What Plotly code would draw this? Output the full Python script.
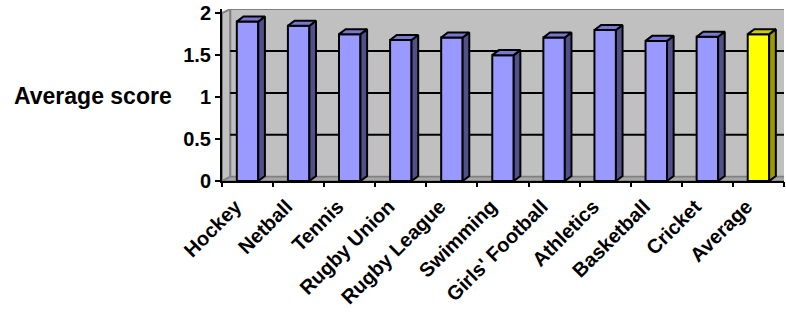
import plotly.graph_objects as go

categories = ["Hockey", "Netball", "Tennis", "Rugby Union", "Rugby League", "Swimming",
              "Girls' Football", "Athletics", "Basketball", "Cricket", "Average"]
scores = [1.90, 1.85, 1.75, 1.68, 1.71, 1.50, 1.71, 1.80, 1.67, 1.72, 1.75]
y_ticks = [0, 0.5, 1, 1.5, 2]
y_tick_text = ["0", "0.5", "1", "1.5", "2"]

FRONT = "#9999FF"; SIDE = "#50508A"; TOP = "#7878D0"
AVG_FRONT = "#FFFF00"; AVG_SIDE = "#9C9C00"; AVG_TOP = "#CCCC00"
WALL = "#C0C0C0"; WALL_EDGE = "#808080"; FLOOR = "#A6A6A6"

n = len(categories)
xs = list(range(n))
bw = 0.42          # bar width (category units)
bdx, bdy = 0.13, 0.06   # bar depth offset
wdx, wdy = 0.16, 0.05   # wall depth offset
x0, x1 = -0.5, n - 0.5
ymax = 2 + wdy

fig = go.Figure()

fronts = [AVG_FRONT if c == "Average" else FRONT for c in categories]
fig.add_trace(go.Bar(x=xs, y=scores, width=bw, marker=dict(color=fronts, line=dict(color="black", width=2)),
                     hoverinfo="x+y"))

for i, (c, v) in enumerate(zip(categories, scores)):
    side = AVG_SIDE if c == "Average" else SIDE
    top = AVG_TOP if c == "Average" else TOP
    l, r = i - bw / 2, i + bw / 2
    fig.add_trace(go.Scatter(x=[r, r + bdx, r + bdx, r, r], y=[0, bdy, v + bdy, v, 0],
                             fill="toself", fillcolor=side, mode="lines",
                             line=dict(color="black", width=2), hoverinfo="skip"))
    fig.add_trace(go.Scatter(x=[l, l + bdx, r + bdx, r, l], y=[v, v + bdy, v + bdy, v, v],
                             fill="toself", fillcolor=top, mode="lines",
                             line=dict(color="black", width=2), hoverinfo="skip"))

shapes = []
# back wall
shapes.append(dict(type="rect", xref="x", yref="y", x0=x0 + wdx, x1=x1 + wdx + 1, y0=wdy, y1=ymax,
                   fillcolor=WALL, line=dict(color=WALL_EDGE, width=2), layer="below"))
# left wall
shapes.append(dict(type="path", xref="x", yref="y",
                   path=f"M {x0},0 L {x0 + wdx},{wdy} L {x0 + wdx},{ymax} L {x0},2 Z",
                   fillcolor=WALL, line=dict(color=WALL_EDGE, width=2), layer="below"))
# floor
shapes.append(dict(type="path", xref="x", yref="y",
                   path=f"M {x0},0 L {x0 + wdx},{wdy} L {x1 + wdx + 1},{wdy} L {x1 + 1},0 Z",
                   fillcolor=FLOOR, line=dict(color=WALL_EDGE, width=1.5), layer="below"))
# gridlines on back wall
for t in y_ticks[1:-1]:
    shapes.append(dict(type="line", xref="x", yref="y", x0=x0 + wdx, x1=x1 + wdx + 1,
                       y0=t + wdy, y1=t + wdy, line=dict(color="black", width=2), layer="below"))
fig.update_layout(shapes=shapes)

font = "Liberation Sans, Arial, sans-serif"
fig.update_layout(
    width=786, height=326,
    margin=dict(l=222, r=2, t=9, b=145, autoexpand=False),
    paper_bgcolor="white", plot_bgcolor="white",
    showlegend=False,
    font=dict(family=font, color="black"),
    xaxis=dict(range=[x0, x1], tickvals=xs, ticktext=categories, tickangle=-45,
               tickfont=dict(size=20, family=font, weight="bold"), ticks="", showgrid=False,
               ticklabelshift=-12, ticklabelstandoff=4,
               zeroline=False, automargin=False,
               showline=True, linecolor="black", linewidth=2, fixedrange=True),
    xaxis2=dict(range=[x0, x1], overlaying="x", side="bottom", anchor="y",
                tickvals=[i - 0.5 for i in range(n + 1)], ticktext=[""] * (n + 1),
                ticks="outside", ticklen=5, tickwidth=2, tickcolor="black", automargin=False,
                showgrid=False, zeroline=False, showline=False),
    yaxis=dict(range=[0, ymax], tickvals=y_ticks, ticktext=y_tick_text,
               tickfont=dict(size=20, family=font, weight="bold"), ticks="outside", ticklen=5,
               tickwidth=2, automargin=False,
               tickcolor="black", showgrid=False, zeroline=False,
               showline=True, linecolor="black", linewidth=2, fixedrange=True),
    annotations=[dict(text="<b>Average score</b>", xref="paper", yref="paper",
                      x=(12 - 222) / 562, y=(181 - 96) / 172, xanchor="left", yanchor="middle",
                      showarrow=False, font=dict(size=23, family=font))],
)
# invisible trace to activate the boundary-tick axis
fig.add_trace(go.Scatter(x=[x0], y=[0], xaxis="x2", mode="markers", marker=dict(opacity=0),
                         hoverinfo="skip"))

fig.write_html("out.html", config={"displayModeBar": False},
               post_script="document.body.style.margin='0';document.body.style.overflow='hidden';")
